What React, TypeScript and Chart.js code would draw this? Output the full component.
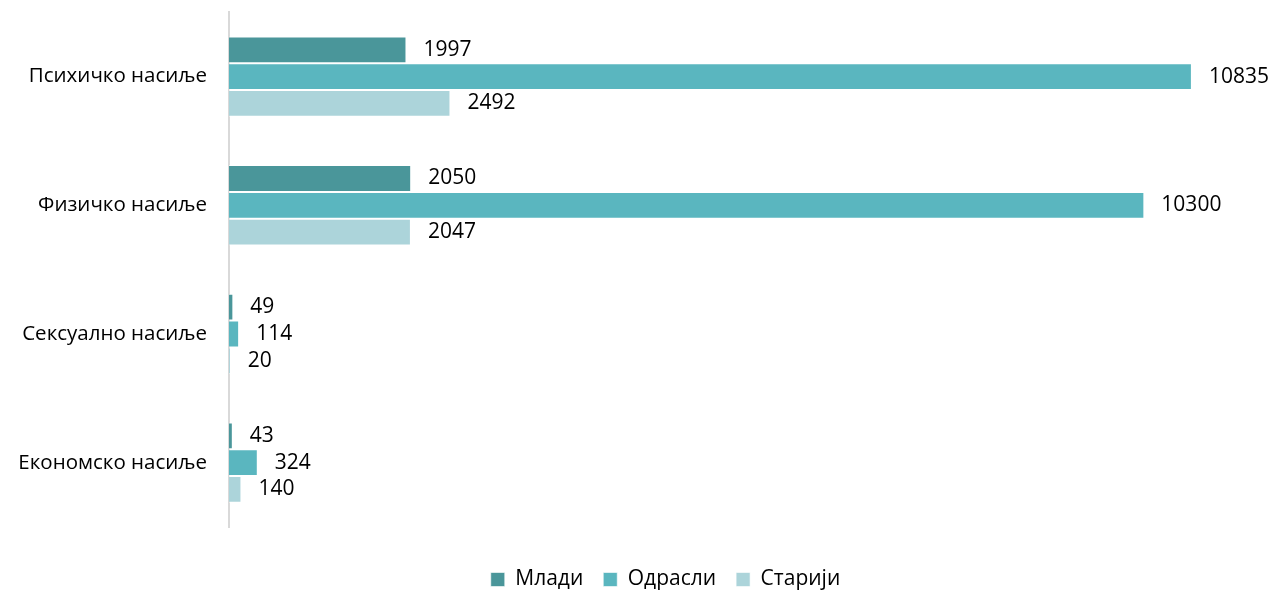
import React, { useEffect, useRef } from "react";
import { Chart, registerables } from "chart.js";

Chart.register(...registerables);

const categories = ["Психичко насиље", "Физичко насиље", "Сексуално насиље", "Економско насиље"];
const seriesNames = ["Млади", "Одрасли", "Старији"];
const mladi = [1997, 2050, 49, 43];
const odrasli = [10835, 10300, 114, 324];
const stariji = [2492, 2047, 20, 140];
const colors = ["#4a969a", "#5ab6bf", "#acd4da"];

const FONT = "'Open Sans', sans-serif";

const valueLabels = {
  id: "valueLabels",
  afterDatasetsDraw(chart: any) {
    const ctx = chart.ctx;
    ctx.save();
    ctx.font = `21px ${FONT}`;
    ctx.fillStyle = "#000";
    ctx.textAlign = "left";
    ctx.textBaseline = "middle";
    chart.data.datasets.forEach((ds: any, i: number) => {
      const meta = chart.getDatasetMeta(i);
      meta.data.forEach((bar: any, j: number) => {
        ctx.fillText(String(ds.data[j]), bar.x + 17, bar.y);
      });
    });
    ctx.restore();
  },
};

const legendShift = {
  id: "legendShift",
  afterLayout(chart: any) {
    if (chart.legend) {
      chart.legend.left += 40;
      chart.legend.right += 40;
    }
  },
};

export default function App() {
  const ref = useRef<HTMLCanvasElement | null>(null);
  useEffect(() => {
    document.body.style.margin = "0";
    const chart = new Chart(ref.current as HTMLCanvasElement, {
      type: "bar",
      data: {
        labels: categories,
        datasets: [mladi, odrasli, stariji].map((d, i) => ({
          label: seriesNames[i],
          data: d,
          backgroundColor: colors[i],
          borderColor: "rgba(255,255,255,0.6)",
          borderWidth: 1,
          categoryPercentage: 0.625,
          barPercentage: 1.0,
        })),
      },
      options: {
        indexAxis: "y",
        animation: false,
        responsive: false,
        maintainAspectRatio: false,
        layout: { padding: { top: 12, right: 21, bottom: -10, left: 0 } },
        scales: {
          x: {
            display: true,
            min: 0,
            max: 11500,
            ticks: { display: false },
            grid: { display: false, drawTicks: false },
            border: { display: false },
            afterFit(scale: any) {
              scale.height = 22;
            },
          },
          y: {
            grid: {
              display: true,
              drawOnChartArea: false,
              drawTicks: true,
              tickLength: 22,
              color: "rgba(0,0,0,0)",
            },
            border: { display: true, color: "#d9d9d9", width: 2 },
            ticks: { color: "#000", font: { family: FONT, size: 20.5 }, padding: 0 },
            afterFit(scale: any) {
              scale.width = 229;
            },
          },
        },
        plugins: {
          legend: {
            position: "bottom",
            labels: {
              color: "#000",
              font: { family: FONT, size: 21 },
              boxWidth: 14,
              boxHeight: 14,
              padding: 20,
            },
          },
          tooltip: { enabled: false },
        },
      },
      plugins: [valueLabels, legendShift],
    });
    return () => chart.destroy();
  }, []);
  return <canvas ref={ref} width={1272} height={590} style={{ display: "block" }} />;
}
